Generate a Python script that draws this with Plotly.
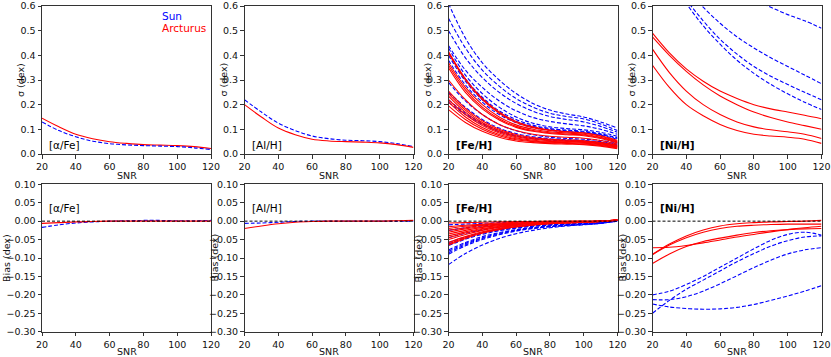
import plotly.graph_objects as go
from plotly.subplots import make_subplots

snr = [20, 30, 40, 50, 60, 70, 80, 90, 100, 110, 120]

# sigma, [alpha/Fe] and [Al/H]
alpha_sig_sun = [0.13, 0.095, 0.07, 0.052, 0.042, 0.037, 0.034, 0.032, 0.03, 0.025, 0.018]
alpha_sig_arc = [0.145, 0.11, 0.08, 0.062, 0.05, 0.043, 0.038, 0.036, 0.034, 0.03, 0.022]
al_sig_sun = [0.22, 0.17, 0.125, 0.095, 0.073, 0.062, 0.056, 0.054, 0.05, 0.042, 0.03]
al_sig_arc = [0.2, 0.15, 0.105, 0.078, 0.06, 0.053, 0.05, 0.048, 0.045, 0.038, 0.027]

# sigma, [Fe/H] (one list per line)
fe_sig_sun = [
    [0.61, 0.47, 0.37, 0.30, 0.245, 0.205, 0.178, 0.162, 0.150, 0.130, 0.105],
    [0.55, 0.43, 0.34, 0.275, 0.225, 0.19, 0.165, 0.152, 0.142, 0.122, 0.095],
    [0.50, 0.39, 0.31, 0.25, 0.205, 0.173, 0.152, 0.14, 0.13, 0.112, 0.088],
    [0.44, 0.34, 0.27, 0.215, 0.175, 0.148, 0.132, 0.122, 0.114, 0.1, 0.08],
    [0.43, 0.32, 0.245, 0.19, 0.15, 0.125, 0.11, 0.103, 0.098, 0.088, 0.072],
    [0.41, 0.305, 0.23, 0.175, 0.14, 0.117, 0.103, 0.097, 0.092, 0.082, 0.066],
    [0.40, 0.295, 0.22, 0.168, 0.133, 0.112, 0.1, 0.094, 0.089, 0.079, 0.063],
    [0.38, 0.28, 0.21, 0.16, 0.127, 0.107, 0.096, 0.09, 0.086, 0.076, 0.06],
    [0.29, 0.215, 0.16, 0.12, 0.094, 0.078, 0.068, 0.063, 0.06, 0.055, 0.045],
    [0.25, 0.19, 0.14, 0.105, 0.083, 0.07, 0.062, 0.058, 0.055, 0.05, 0.04],
    [0.22, 0.165, 0.125, 0.095, 0.075, 0.064, 0.058, 0.055, 0.052, 0.047, 0.038],
    [0.21, 0.16, 0.12, 0.09, 0.072, 0.062, 0.056, 0.053, 0.05, 0.045, 0.036],
]
fe_sig_arc = [
    [0.415, 0.305, 0.225, 0.17, 0.132, 0.11, 0.097, 0.091, 0.086, 0.074, 0.055],
    [0.41, 0.30, 0.22, 0.165, 0.128, 0.107, 0.095, 0.089, 0.084, 0.072, 0.052],
    [0.37, 0.27, 0.2, 0.15, 0.118, 0.1, 0.09, 0.085, 0.08, 0.068, 0.05],
    [0.36, 0.26, 0.19, 0.143, 0.112, 0.095, 0.086, 0.081, 0.077, 0.066, 0.048],
    [0.35, 0.25, 0.183, 0.138, 0.108, 0.092, 0.083, 0.078, 0.074, 0.063, 0.045],
    [0.30, 0.22, 0.16, 0.12, 0.095, 0.08, 0.072, 0.068, 0.064, 0.055, 0.04],
    [0.255, 0.185, 0.135, 0.1, 0.079, 0.067, 0.06, 0.057, 0.054, 0.047, 0.035],
    [0.245, 0.178, 0.128, 0.095, 0.074, 0.063, 0.057, 0.054, 0.051, 0.045, 0.033],
    [0.235, 0.17, 0.122, 0.09, 0.07, 0.06, 0.054, 0.051, 0.049, 0.043, 0.031],
    [0.22, 0.16, 0.115, 0.085, 0.066, 0.056, 0.051, 0.049, 0.047, 0.041, 0.029],
    [0.21, 0.15, 0.107, 0.079, 0.062, 0.053, 0.048, 0.046, 0.044, 0.038, 0.027],
    [0.195, 0.14, 0.1, 0.074, 0.058, 0.05, 0.045, 0.043, 0.041, 0.035, 0.024],
    [0.18, 0.128, 0.092, 0.068, 0.053, 0.046, 0.042, 0.04, 0.038, 0.032, 0.021],
]

# sigma, [Ni/H]
ni_sig_sun = [
    [1.3, 1.1, 0.95, 0.83, 0.74, 0.67, 0.625, 0.595, 0.565, 0.54, 0.51],
    [0.87, 0.76, 0.67, 0.595, 0.53, 0.475, 0.43, 0.39, 0.355, 0.32, 0.285],
    [0.83, 0.72, 0.625, 0.54, 0.465, 0.405, 0.355, 0.315, 0.282, 0.25, 0.22],
    [0.82, 0.71, 0.61, 0.52, 0.445, 0.38, 0.327, 0.282, 0.244, 0.21, 0.18],
]
ni_sig_arc = [
    [0.49, 0.41, 0.345, 0.295, 0.255, 0.225, 0.2, 0.183, 0.17, 0.157, 0.143],
    [0.475, 0.4, 0.335, 0.28, 0.235, 0.2, 0.17, 0.148, 0.13, 0.115, 0.1],
    [0.425, 0.33, 0.255, 0.2, 0.16, 0.13, 0.11, 0.098, 0.09, 0.08, 0.063],
    [0.36, 0.27, 0.2, 0.155, 0.12, 0.095, 0.08, 0.073, 0.068, 0.06, 0.043],
]

# bias, [alpha/Fe] and [Al/H]
alpha_bias_sun = [-0.017, -0.01, -0.005, -0.002, 0.0, 0.001, 0.002, 0.002, 0.001, 0.001, 0.002]
alpha_bias_arc = [-0.006, -0.004, -0.002, -0.001, 0.0, 0.0, 0.0, 0.0, 0.0, 0.0, 0.0]
al_bias_sun = [-0.006, -0.005, -0.003, -0.001, 0.0, 0.0, 0.0, 0.0, 0.0, 0.0, 0.0]
al_bias_arc = [-0.02, -0.013, -0.007, -0.003, -0.001, 0.0, 0.0, 0.0, 0.0, 0.001, 0.002]

# bias, [Fe/H]
fe_bias_sun = [
    [-0.01, -0.008, -0.006, -0.004, -0.003, -0.002, -0.002, -0.001, -0.001, 0.0, 0.002],
    [-0.025, -0.018, -0.013, -0.009, -0.006, -0.004, -0.003, -0.002, -0.002, -0.001, 0.002],
    [-0.045, -0.033, -0.024, -0.017, -0.012, -0.009, -0.007, -0.005, -0.004, -0.002, 0.002],
    [-0.058, -0.043, -0.031, -0.022, -0.016, -0.012, -0.009, -0.007, -0.005, -0.003, 0.002],
    [-0.062, -0.046, -0.033, -0.024, -0.018, -0.013, -0.01, -0.008, -0.006, -0.003, 0.002],
    [-0.066, -0.049, -0.036, -0.026, -0.019, -0.014, -0.011, -0.009, -0.007, -0.004, 0.001],
    [-0.078, -0.058, -0.042, -0.031, -0.023, -0.017, -0.013, -0.01, -0.008, -0.005, 0.001],
    [-0.082, -0.061, -0.045, -0.033, -0.024, -0.018, -0.014, -0.011, -0.008, -0.005, 0.001],
    [-0.086, -0.064, -0.047, -0.035, -0.026, -0.019, -0.015, -0.011, -0.009, -0.005, 0.0],
    [-0.09, -0.067, -0.05, -0.037, -0.027, -0.02, -0.015, -0.012, -0.009, -0.006, 0.0],
    [-0.118, -0.088, -0.065, -0.047, -0.034, -0.025, -0.018, -0.013, -0.01, -0.006, 0.0],
]
fe_bias_arc = [
    [-0.005, -0.004, -0.003, -0.002, -0.001, -0.001, 0.0, 0.0, 0.0, 0.0, 0.003],
    [-0.015, -0.011, -0.008, -0.005, -0.003, -0.002, -0.001, -0.001, 0.0, 0.0, 0.003],
    [-0.02, -0.014, -0.01, -0.007, -0.005, -0.003, -0.002, -0.001, -0.001, 0.0, 0.003],
    [-0.025, -0.018, -0.012, -0.008, -0.006, -0.004, -0.003, -0.002, -0.001, 0.0, 0.003],
    [-0.03, -0.021, -0.015, -0.01, -0.007, -0.005, -0.003, -0.002, -0.001, 0.0, 0.004],
    [-0.035, -0.025, -0.017, -0.012, -0.008, -0.005, -0.004, -0.003, -0.002, 0.0, 0.003],
    [-0.04, -0.029, -0.02, -0.014, -0.009, -0.006, -0.004, -0.003, -0.002, 0.0, 0.003],
    [-0.045, -0.032, -0.022, -0.015, -0.01, -0.007, -0.005, -0.003, -0.002, 0.0, 0.004],
    [-0.05, -0.036, -0.025, -0.017, -0.012, -0.008, -0.005, -0.004, -0.002, -0.001, 0.003],
    [-0.058, -0.042, -0.029, -0.02, -0.014, -0.009, -0.006, -0.004, -0.003, -0.001, 0.003],
    [-0.062, -0.045, -0.031, -0.021, -0.015, -0.01, -0.007, -0.005, -0.003, -0.001, 0.002],
    [-0.065, -0.047, -0.033, -0.023, -0.016, -0.011, -0.007, -0.005, -0.003, -0.001, 0.002],
]

# bias, [Ni/H]
ni_bias_sun = [
    [-0.2, -0.19, -0.172, -0.15, -0.125, -0.1, -0.075, -0.052, -0.036, -0.03, -0.038],
    [-0.25, -0.215, -0.185, -0.16, -0.135, -0.11, -0.088, -0.068, -0.053, -0.043, -0.04],
    [-0.213, -0.213, -0.205, -0.19, -0.17, -0.148, -0.126, -0.106, -0.089, -0.078, -0.072],
    [-0.225, -0.233, -0.237, -0.239, -0.238, -0.234, -0.226, -0.215, -0.203, -0.19, -0.175],
]
ni_bias_arc = [
    [-0.09, -0.062, -0.04, -0.024, -0.013, -0.007, -0.004, -0.002, -0.001, 0.0, 0.002],
    [-0.091, -0.065, -0.045, -0.03, -0.02, -0.014, -0.011, -0.009, -0.008, -0.008, -0.008],
    [-0.072, -0.071, -0.066, -0.059, -0.051, -0.043, -0.036, -0.029, -0.023, -0.018, -0.014],
    [-0.115, -0.089, -0.069, -0.055, -0.046, -0.038, -0.031, -0.026, -0.023, -0.021, -0.02],
]

labels = ["[α/Fe]", "[Al/H]", "<b>[Fe/H]</b>", "<b>[Ni/H]</b>"]

FONT = "DejaVu Sans"
W, H = 831, 357
BLUE, RED = "#0000ff", "#ff0000"

fig = make_subplots(rows=2, cols=4)


def add_lines(curves, color, dashed, row, col):
    for y in curves:
        fig.add_trace(go.Scatter(
            x=snr, y=y, mode="lines", showlegend=False, hoverinfo="skip",
            line=dict(color=color, width=1.1, shape="spline",
                      dash="4px,2px" if dashed else "solid"),
        ), row=row, col=col)


sig_sun = [[alpha_sig_sun], [al_sig_sun], fe_sig_sun, ni_sig_sun]
sig_arc = [[alpha_sig_arc], [al_sig_arc], fe_sig_arc, ni_sig_arc]
bias_sun = [[alpha_bias_sun], [al_bias_sun], fe_bias_sun, ni_bias_sun]
bias_arc = [[alpha_bias_arc], [al_bias_arc], fe_bias_arc, ni_bias_arc]

for c in range(4):
    if c == 0:
        add_lines(sig_arc[c], RED, False, 1, c + 1)
        add_lines(sig_sun[c], BLUE, True, 1, c + 1)
    else:
        add_lines(sig_sun[c], BLUE, True, 1, c + 1)
        add_lines(sig_arc[c], RED, False, 1, c + 1)
    add_lines(bias_sun[c], BLUE, True, 2, c + 1)
    add_lines(bias_arc[c], RED, False, 2, c + 1)
    fig.add_trace(go.Scatter(
        x=[20, 120], y=[0, 0], mode="lines", showlegend=False, hoverinfo="skip",
        line=dict(color="black", width=1, dash="3px,2px"),
    ), row=2, col=c + 1)

# panel placement in pixels
lefts = [42, 244.5, 448.5, 652.5]
pw = 169
top_row = (6, 154)
bot_row = (184.3, 331.7)

axis_style = dict(showgrid=False, zeroline=False, showline=True, mirror=True,
                  automargin=False,
                  linecolor="#333", linewidth=1, ticks="outside", ticklen=3.5,
                  tickwidth=1, tickcolor="#333",
                  tickfont=dict(family=FONT, size=9.5, color="#111"))

for c in range(4):
    xd = [lefts[c] / W, (lefts[c] + pw) / W]
    for r, (yt, yb) in enumerate([top_row, bot_row]):
        yd = [1 - yb / H, 1 - yt / H]
        fig.update_xaxes(domain=xd, range=[20, 120], tickvals=[20, 40, 60, 80, 100, 120],
                         row=r + 1, col=c + 1, **axis_style)
        if r == 0:
            fig.update_yaxes(domain=yd, range=[0, 0.6], tickvals=[0, 0.1, 0.2, 0.3, 0.4, 0.5, 0.6],
                             tickformat=".1f", row=1, col=c + 1, **axis_style)
        else:
            fig.update_yaxes(domain=yd, range=[-0.3, 0.1],
                             tickvals=[-0.3, -0.25, -0.2, -0.15, -0.1, -0.05, 0, 0.05, 0.1],
                             tickformat=".2f", row=2, col=c + 1, **axis_style)


def ax(n):
    return "" if n == 1 else str(n)


txt = dict(family=FONT, size=9.5, color="#111")
annots = []
for c in range(4):
    xc = (lefts[c] + pw / 2) / W
    # x titles
    for yp in (175.5, 351):
        annots.append(dict(text="SNR", x=xc, y=1 - yp / H, xref="paper", yref="paper",
                           xanchor="center", yanchor="middle", showarrow=False, font=txt))
    # y titles
    annots.append(dict(text="σ (dex)", x=(lefts[c] - 22) / W, y=1 - 80 / H,
                       xref="paper", yref="paper", xanchor="center", yanchor="middle",
                       textangle=-90, showarrow=False, font=txt))
    annots.append(dict(text="Bias (dex)", x=(lefts[c] - 36 if c == 0 else lefts[c] - 31) / W,
                       y=1 - 258 / H, xref="paper", yref="paper", xanchor="center",
                       yanchor="middle", textangle=-90, showarrow=False, font=txt))
    # panel labels
    n_top = c + 1
    n_bot = c + 5
    annots.append(dict(text=labels[c], x=0.03, y=0.06, xref=f"x{ax(n_top)} domain",
                       yref=f"y{ax(n_top)} domain", xanchor="left", yanchor="middle",
                       showarrow=False, font=dict(family=FONT, size=10.5, color="black")))
    annots.append(dict(text=labels[c], x=0.03, y=0.84, xref=f"x{ax(n_bot)} domain",
                       yref=f"y{ax(n_bot)} domain", xanchor="left", yanchor="middle",
                       showarrow=False, font=dict(family=FONT, size=10.5, color="black")))

# legend text
annots.append(dict(text="Sun", x=159.5 / W, y=1 - 16.3 / H, xref="paper", yref="paper",
                   xanchor="left", yanchor="middle", showarrow=False,
                   font=dict(family=FONT, size=10.5, color=BLUE)))
annots.append(dict(text="Arcturus", x=159.5 / W, y=1 - 27.7 / H, xref="paper", yref="paper",
                   xanchor="left", yanchor="middle", showarrow=False,
                   font=dict(family=FONT, size=10.5, color=RED)))

fig.update_layout(width=W, height=H, margin=dict(l=0, r=0, t=0, b=0),
                  plot_bgcolor="white", paper_bgcolor="white",
                  annotations=annots, showlegend=False)

# drop the page's default body margin so the figure sits at the window corner
fig.write_html("out.html", config={"displayModeBar": False},
               post_script="document.body.style.margin='0';")
